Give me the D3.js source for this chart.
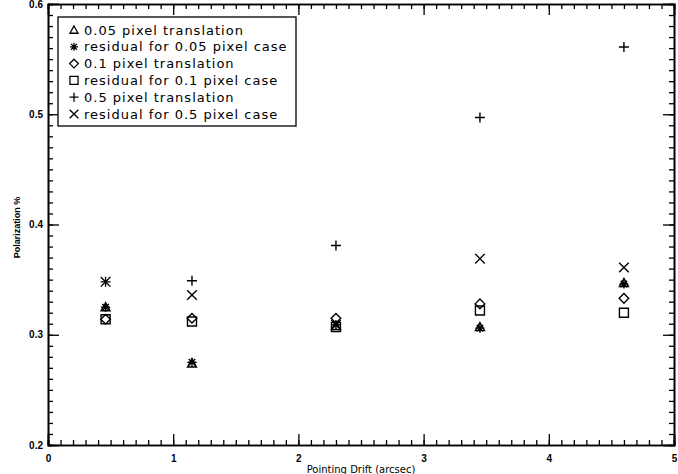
<!DOCTYPE html>
<html>
<head>
<meta charset="utf-8">
<script src="https://cdn.jsdelivr.net/npm/d3@7"></script>
<style>
  body { margin: 0; background: #fff; overflow: hidden; }
  svg { display: block; font-family: "DejaVu Sans", sans-serif; }
</style>
</head>
<body>
<div id="chart"></div>
<script>
var svgWidth = 678;
var svgHeight = 474;

// drift in arcsec
var drift = [0.46, 1.15, 2.3, 3.45, 4.6];

var trans005 = [0.325, 0.274, 0.308, 0.307, 0.347];
var resid005 = [0.325, 0.275, 0.309, 0.306, 0.346];
var trans01 = [0.314, 0.315, 0.315, 0.328, 0.333];
var resid01 = [0.314, 0.312, 0.307, 0.322, 0.320];
var trans05 = [0.348, 0.349, 0.381, 0.497, 0.561];
var resid05 = [0.348, 0.336, 0.309, 0.369, 0.361];

var legendLabels = [
  "0.05 pixel translation",
  "residual for 0.05 pixel case",
  "0.1 pixel translation",
  "residual for 0.1 pixel case",
  "0.5 pixel translation",
  "residual for 0.5 pixel case"
];

var xTicks = [0, 1, 2, 3, 4, 5];
var yTicks = [0.2, 0.3, 0.4, 0.5, 0.6];

var chartMargin = { top: 4, right: 4, bottom: 29, left: 48 };
var chartWidth = svgWidth - chartMargin.left - chartMargin.right;
var chartHeight = svgHeight - chartMargin.top - chartMargin.bottom;

// marker shapes, r = half width
function triangle(r) {
  return `M0,${-r}L${r},${r * 0.8}L${-r},${r * 0.8}Z`;
}
function square(r) {
  return `M${-r},${-r}H${r}V${r}H${-r}Z`;
}
function diamond(r) {
  return `M0,${-r}L${r},0L0,${r}L${-r},0Z`;
}
function plus(r) {
  return `M${-r},0H${r}M0,${-r}V${r}`;
}
function cross(r) {
  return `M${-r},${-r}L${r},${r}M${r},${-r}L${-r},${r}`;
}
function asterisk(r) {
  return plus(r) + cross(r * 0.72);
}

var series = [
  { values: trans005, shape: s => triangle(4.5 * s) },
  { values: resid005, shape: s => asterisk(4.5 * s) },
  { values: trans01, shape: s => diamond(4.8 * s) },
  { values: resid01, shape: s => square(4.5 * s) },
  { values: trans05, shape: s => plus(5 * s) },
  { values: resid05, shape: s => cross(4.8 * s) }
];

var svg = d3.select("#chart")
  .append("svg")
  .attr("width", svgWidth)
  .attr("height", svgHeight);

var chartGroup = svg.append("g")
  .attr("transform", `translate(${chartMargin.left}, ${chartMargin.top})`);

var xScale = d3.scaleLinear()
  .domain([0, 5])
  .range([0, chartWidth]);

var yScale = d3.scaleLinear()
  .domain([0.2, 0.6])
  .range([chartHeight, 0]);

var xMinor = d3.range(0, 51).map(d => d / 10);
var yMinor = d3.range(20, 61).map(d => d / 100);

function styleAxis(g) {
  g.select(".domain").attr("stroke", "#000").attr("stroke-width", 1.6);
  g.selectAll(".tick line").attr("stroke", "#000").attr("stroke-width", 1.3);
  g.selectAll(".tick text")
    .attr("fill", "#000")
    .style("font-size", "10px")
    .style("font-weight", "bold")
    .style("font-family", "Liberation Sans, sans-serif");
}

// minor ticks on all four sides
chartGroup.append("g")
  .attr("transform", `translate(0, ${chartHeight})`)
  .call(d3.axisBottom(xScale).tickValues(xMinor).tickSize(-5).tickFormat(""))
  .call(styleAxis);
chartGroup.append("g")
  .call(d3.axisTop(xScale).tickValues(xMinor).tickSize(-5).tickFormat(""))
  .call(styleAxis);
chartGroup.append("g")
  .call(d3.axisLeft(yScale).tickValues(yMinor).tickSize(-5).tickFormat(""))
  .call(styleAxis);
chartGroup.append("g")
  .attr("transform", `translate(${chartWidth}, 0)`)
  .call(d3.axisRight(yScale).tickValues(yMinor).tickSize(-5).tickFormat(""))
  .call(styleAxis);

// major ticks
chartGroup.append("g")
  .attr("transform", `translate(0, ${chartHeight})`)
  .call(d3.axisBottom(xScale).tickValues(xTicks).tickSize(-11).tickPadding(10).tickFormat(d3.format("d")))
  .call(styleAxis);
chartGroup.append("g")
  .call(d3.axisTop(xScale).tickValues(xTicks).tickSize(-11).tickFormat(""))
  .call(styleAxis);
chartGroup.append("g")
  .call(d3.axisLeft(yScale).tickValues(yTicks).tickSize(-11).tickPadding(5).tickFormat(d3.format(".1f")))
  .call(styleAxis);
chartGroup.append("g")
  .attr("transform", `translate(${chartWidth}, 0)`)
  .call(d3.axisRight(yScale).tickValues(yTicks).tickSize(-11).tickFormat(""))
  .call(styleAxis);

// axis titles
chartGroup.append("text")
  .attr("x", chartWidth / 2)
  .attr("y", chartHeight + 28)
  .attr("text-anchor", "middle")
  .style("font-size", "10px")
  .text("Pointing Drift (arcsec)");

chartGroup.append("text")
  .attr("transform", `translate(${-28}, ${chartHeight / 2 + 3}) rotate(-90)`)
  .attr("text-anchor", "middle")
  .style("font-size", "9px")
  .style("font-weight", "bold")
  .style("font-family", "Liberation Sans, sans-serif")
  .text("Polarization %");

// data markers
series.forEach(function(s) {
  chartGroup.append("g")
    .selectAll("path")
    .data(s.values)
    .enter()
    .append("path")
    .attr("transform", (d, i) => `translate(${xScale(drift[i])}, ${yScale(d)})`)
    .attr("d", () => s.shape(1))
    .attr("fill", "none")
    .attr("stroke", "#000")
    .attr("stroke-width", 1.4);
});

// legend
var legend = chartGroup.append("g")
  .attr("transform", "translate(10, 13)");

legend.append("rect")
  .attr("width", 238)
  .attr("height", 109)
  .attr("fill", "#fff")
  .attr("stroke", "#000")
  .attr("stroke-width", 1.3);

var rows = legend.selectAll(".row")
  .data(legendLabels)
  .enter()
  .append("g")
  .attr("class", "row")
  .attr("transform", (d, i) => `translate(16, ${13 + i * 16.8})`);

rows.append("path")
  .attr("d", (d, i) => series[i].shape(0.9))
  .attr("fill", "none")
  .attr("stroke", "#000")
  .attr("stroke-width", 1.3);

rows.append("text")
  .attr("x", 10)
  .attr("dy", "0.35em")
  .style("font-size", "13px")
  .style("letter-spacing", "1px")
  .text(d => d);
</script>
</body>
</html>
